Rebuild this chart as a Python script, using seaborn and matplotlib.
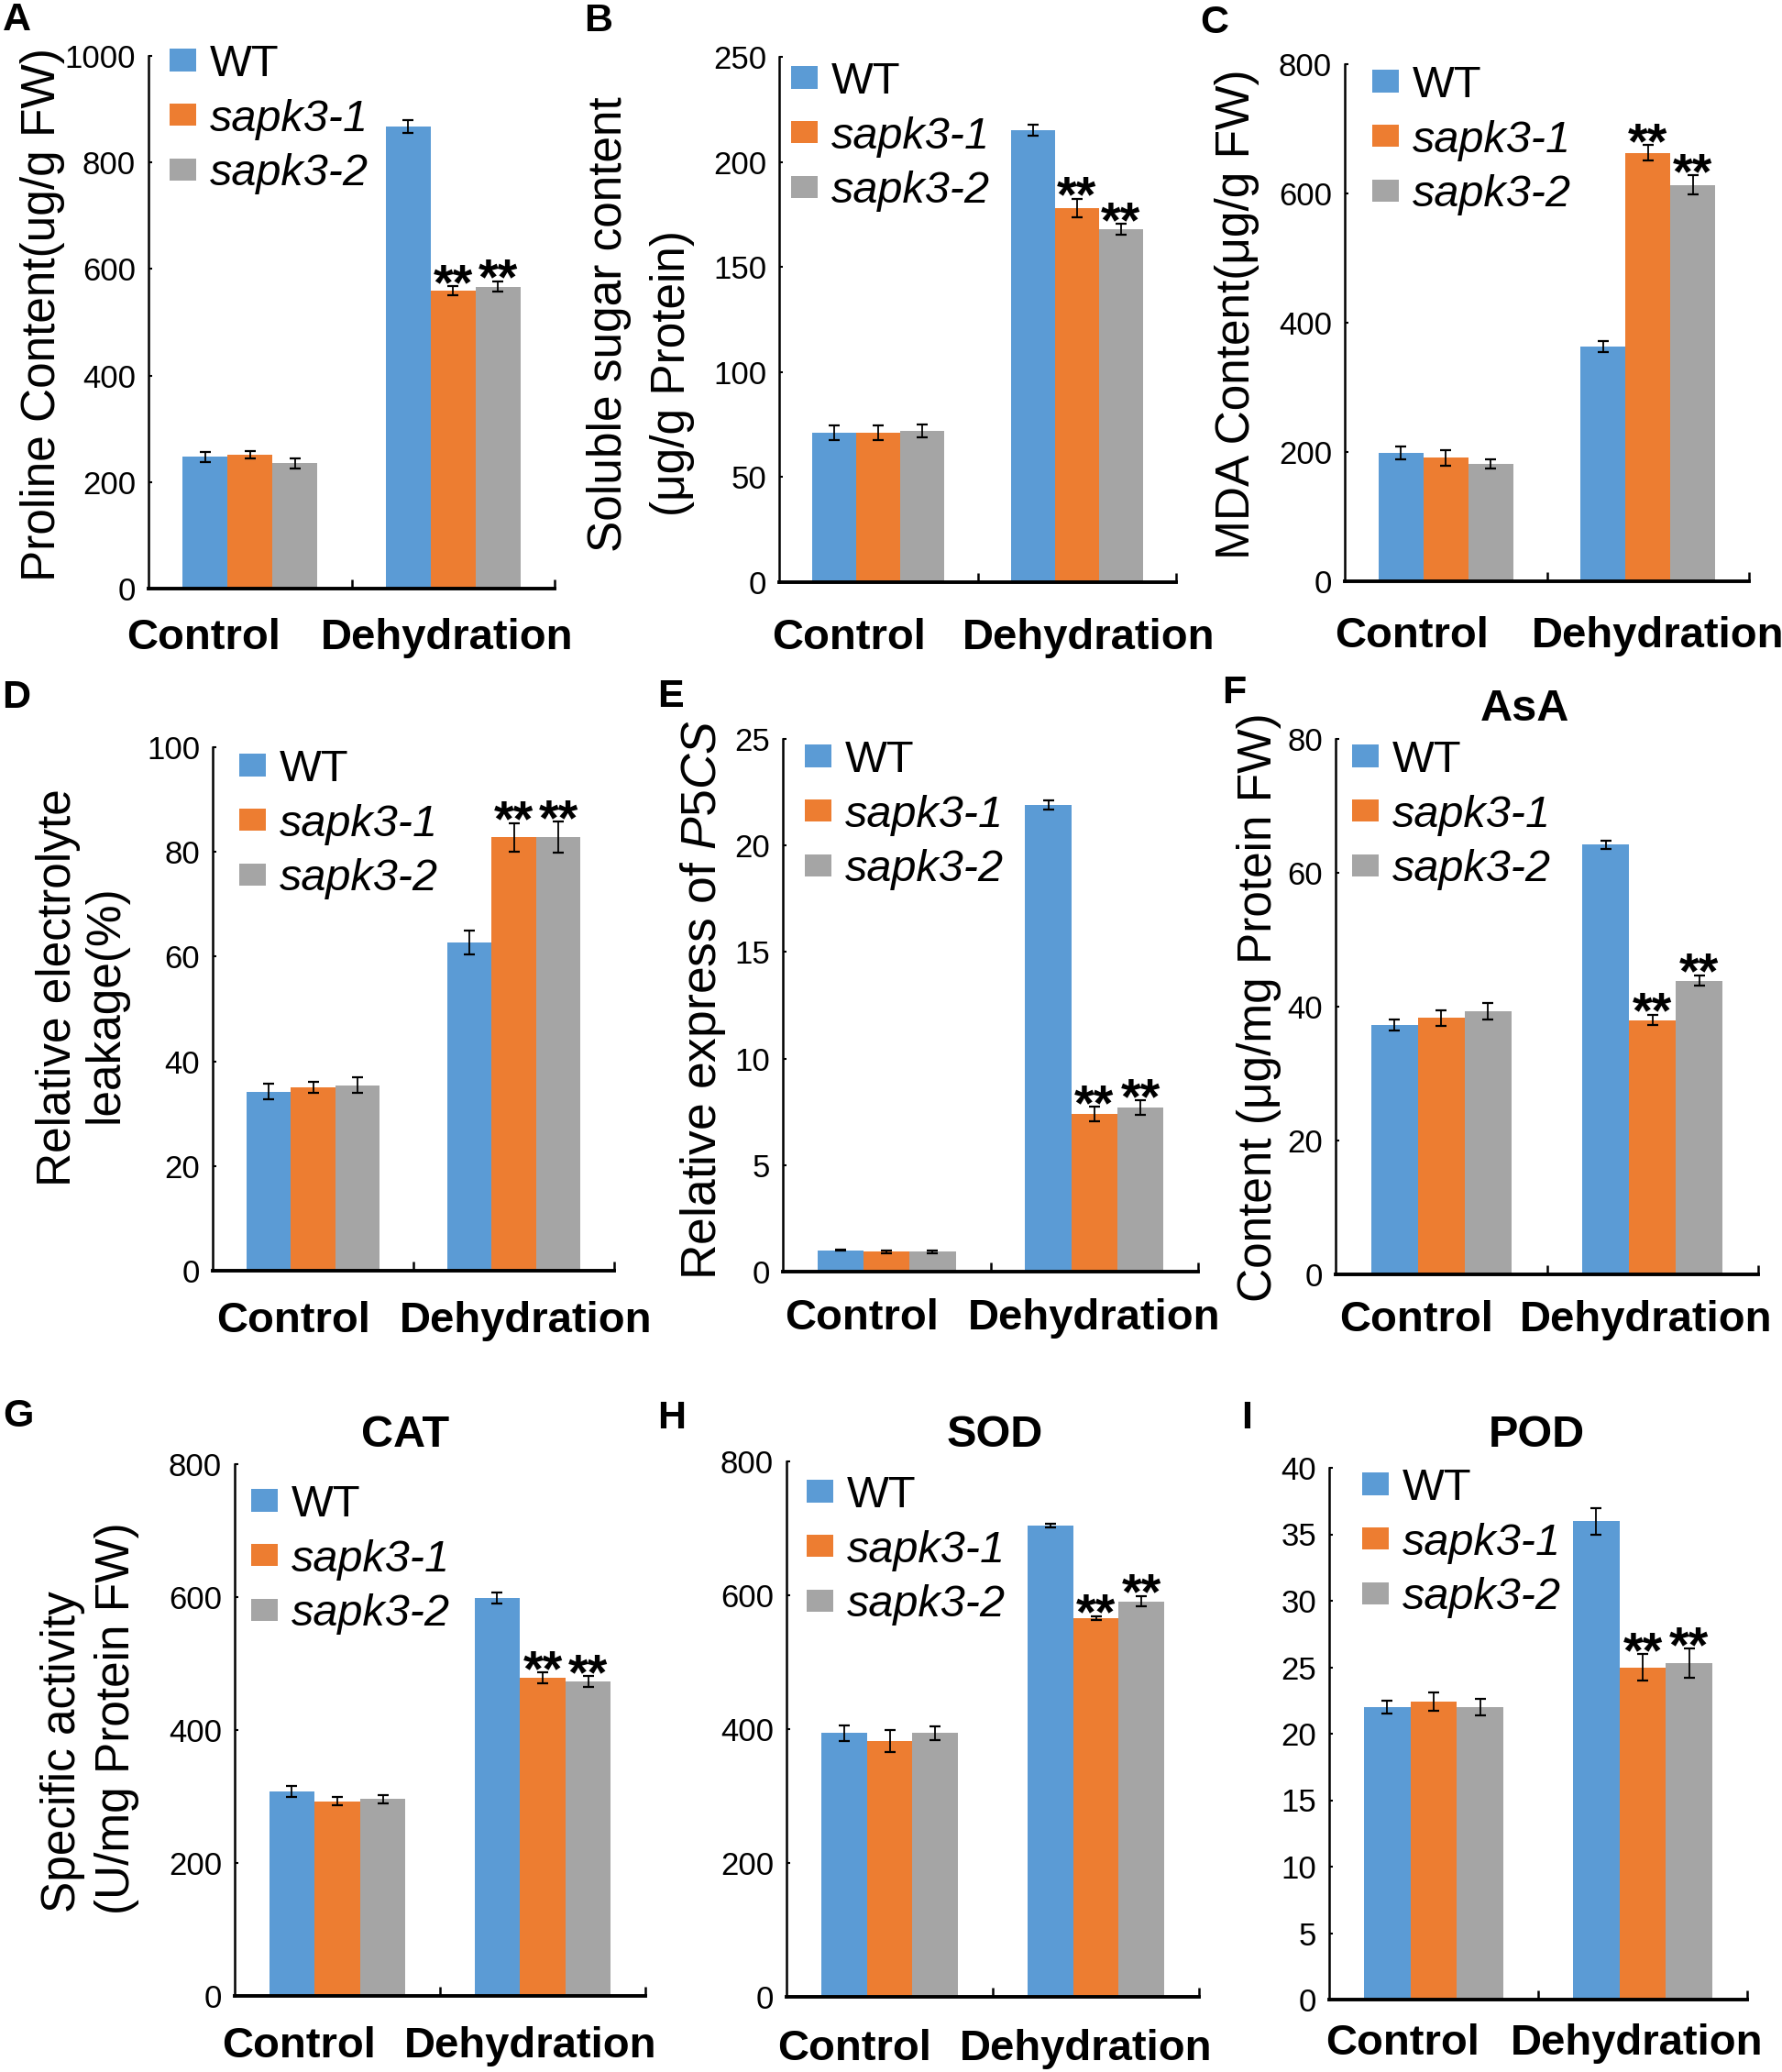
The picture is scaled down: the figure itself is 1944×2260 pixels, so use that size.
import numpy as np
import pandas as pd
import matplotlib
matplotlib.use("Agg")
import matplotlib.pyplot as plt
import seaborn as sns

plt.rcParams['font.family'] = ['Liberation Sans', 'DejaVu Sans']
plt.rcParams['mathtext.fontset'] = 'custom'
plt.rcParams['mathtext.rm'] = 'Liberation Sans'
plt.rcParams['mathtext.it'] = 'Liberation Sans:italic'
plt.rcParams['mathtext.bf'] = 'Liberation Sans:bold'

# ---------------- data ----------------
conditions = ["Control", "Dehydration"]
genotypes = ["WT", "sapk3-1", "sapk3-2"]
colors = ["#5B9BD5", "#ED7D31", "#A5A5A5"]

proline_ctrl = [247, 251, 235]
proline_ctrl_err = [9, 7, 9]
proline_dehy = [867, 559, 567]
proline_dehy_err = [12, 9, 10]

sugar_ctrl = [71, 71, 72]
sugar_ctrl_err = [3.5, 3.5, 3]
sugar_dehy = [215, 178, 168]
sugar_dehy_err = [2.5, 4.5, 2.5]

mda_ctrl = [198, 191, 182]
mda_ctrl_err = [10, 12, 7]
mda_dehy = [363, 663, 613]
mda_dehy_err = [8, 12, 15]

leak_ctrl = [34.2, 35.0, 35.4]
leak_ctrl_err = [1.5, 1.1, 1.5]
leak_dehy = [62.7, 82.8, 82.8]
leak_dehy_err = [2.2, 2.7, 3.0]

p5cs_ctrl = [1.01, 0.93, 0.93]
p5cs_ctrl_err = [0.03, 0.05, 0.05]
p5cs_dehy = [21.9, 7.4, 7.7]
p5cs_dehy_err = [0.2, 0.35, 0.35]

asa_ctrl = [37.3, 38.3, 39.3]
asa_ctrl_err = [0.8, 1.2, 1.2]
asa_dehy = [64.2, 38.0, 43.9]
asa_dehy_err = [0.6, 0.8, 0.8]

cat_ctrl = [308, 293, 296]
cat_ctrl_err = [8, 6, 6]
cat_dehy = [599, 479, 473]
cat_dehy_err = [8, 8, 8]

sod_ctrl = [394, 382, 394]
sod_ctrl_err = [12, 16, 10]
sod_dehy = [704, 566, 591]
sod_dehy_err = [3, 3, 8]

pod_ctrl = [22.0, 22.4, 22.0]
pod_ctrl_err = [0.5, 0.7, 0.6]
pod_dehy = [36.0, 25.0, 25.3]
pod_dehy_err = [1.0, 1.0, 1.1]

y_max = {"A": 1000, "B": 250, "C": 800, "D": 100, "E": 25, "F": 80, "G": 800, "H": 800, "I": 40}
y_step = {"A": 200, "B": 50, "C": 200, "D": 20, "E": 5, "F": 20, "G": 200, "H": 200, "I": 5}

panel_data = {
    "A": (proline_ctrl, proline_ctrl_err, proline_dehy, proline_dehy_err),
    "B": (sugar_ctrl, sugar_ctrl_err, sugar_dehy, sugar_dehy_err),
    "C": (mda_ctrl, mda_ctrl_err, mda_dehy, mda_dehy_err),
    "D": (leak_ctrl, leak_ctrl_err, leak_dehy, leak_dehy_err),
    "E": (p5cs_ctrl, p5cs_ctrl_err, p5cs_dehy, p5cs_dehy_err),
    "F": (asa_ctrl, asa_ctrl_err, asa_dehy, asa_dehy_err),
    "G": (cat_ctrl, cat_ctrl_err, cat_dehy, cat_dehy_err),
    "H": (sod_ctrl, sod_ctrl_err, sod_dehy, sod_dehy_err),
    "I": (pod_ctrl, pod_ctrl_err, pod_dehy, pod_dehy_err),
}

# ---------------- layout (pixels) ----------------
W, H = 1944, 2260
fig = plt.figure(figsize=(W / 100, H / 100), dpi=100)

def fx(x):
    return x / W

def fy(y):
    return 1 - y / H

layout = {
    "A": dict(box=(162, 605, 61, 642), xt=(-0.23, 0.97), leg=(185, 75), pad=23),
    "B": dict(box=(850, 1283, 62, 635), xt=(-0.15, 1.06), leg=(863, 94), pad=28),
    "C": dict(box=(1467, 1908, 70, 634), xt=(-0.17, 1.05), leg=(1497, 98), pad=27),
    "D": dict(box=(232, 670, 815, 1386), xt=(-0.10, 1.06), leg=(261, 844), pad=24),
    "E": dict(box=(854, 1307, 806, 1387), xt=(-0.12, 1.00), leg=(878, 834), pad=21),
    "F": dict(box=(1457, 1918, 806, 1390), xt=(-0.12, 0.97), leg=(1475, 834), pad=20),
    "G": dict(box=(256, 704, 1597, 2177), xt=(-0.185, 0.94), leg=(274, 1646), pad=24),
    "H": dict(box=(858, 1308, 1594, 2178), xt=(-0.17, 0.95), leg=(880, 1636), pad=25),
    "I": dict(box=(1450, 1906, 1601, 2181), xt=(-0.15, 0.97), leg=(1486, 1628), pad=19),
}

for key in "ABCDEFGHI":
    ctrl, ctrl_err, dehy, dehy_err = panel_data[key]
    lay = layout[key]
    x0, x1, yt, yb = lay["box"]
    ax = fig.add_axes([fx(x0), fy(yb), (x1 - x0) / W, (yb - yt) / H])
    df = pd.DataFrame({
        "condition": np.repeat(conditions, len(genotypes)),
        "genotype": genotypes * len(conditions),
        "value": list(ctrl) + list(dehy),
    })
    err_map = {}
    for gi, g in enumerate(genotypes):
        err_map[("Control", g)] = ctrl_err[gi]
        err_map[("Dehydration", g)] = dehy_err[gi]

    sns.barplot(data=df, x="condition", y="value", hue="genotype",
                order=conditions, hue_order=genotypes, palette=colors,
                width=0.665, errorbar=None, saturation=1, linewidth=0, ax=ax)

    bar_containers = list(ax.containers)[:len(genotypes)]
    for gi, cont in enumerate(bar_containers):
        g = genotypes[gi]
        for bar in cont.patches:
            xc = bar.get_x() + bar.get_width() / 2
            ci = int(round(xc))
            cond = conditions[ci]
            h = bar.get_height()
            e = err_map[(cond, g)]
            ax.errorbar(xc, h, yerr=e, fmt="none", ecolor="black", elinewidth=1.3,
                        capsize=4, capthick=1.6, clip_on=False, zorder=5)
            if cond == "Dehydration" and g != "WT":
                ax.annotate("**", xy=(xc, h + e), xytext=(0, -10), textcoords="offset points",
                            ha="center", va="baseline", fontsize=40, fontweight="bold",
                            annotation_clip=False)

    old = ax.get_legend()
    handles = list(old.legend_handles)
    labels = [t.get_text() for t in old.get_texts()]
    old.remove()
    lx, ly = lay["leg"]
    leg = ax.legend(handles, labels, loc="upper left",
                    bbox_to_anchor=(fx(lx), fy(ly - 27)), bbox_transform=fig.transFigure,
                    frameon=False, fontsize=35, handlelength=0.6, handleheight=0.4,
                    handletextpad=0.3, labelspacing=0.3, borderpad=0, borderaxespad=0)
    for t in leg.get_texts()[1:]:
        t.set_fontstyle("italic")

    ax.set_xlabel("")
    ax.set_ylabel("")
    ax.set_xlim(-0.5, 1.5)
    ax.set_ylim(0, y_max[key])
    ax.set_xticks(list(lay["xt"]))
    ax.set_xticklabels(conditions, fontsize=34, fontweight="bold")
    ax.tick_params(axis="x", which="major", length=0, pad=lay["pad"])
    ax.set_xticks([0.5, 1.5], minor=True)
    ax.tick_params(axis="x", which="minor", direction="in", length=7, width=1.8)
    ticks = np.arange(0, y_max[key] + y_step[key] / 2, y_step[key])
    ax.set_yticks(ticks)
    ax.set_yticklabels([f"{int(t)}" for t in ticks], fontsize=25)
    ax.tick_params(axis="y", direction="in", length=3, width=1.5, pad=10)
    for s in ("top", "right"):
        ax.spines[s].set_visible(False)
    ax.spines["left"].set_linewidth(1.8)
    ax.spines["bottom"].set_linewidth(2.8)
    ax.set_facecolor("none")

# ---------------- panel letters ----------------
letters = {"A": (18, 22), "B": (653, 23), "C": (1325, 25), "D": (18, 761), "E": (731, 760),
           "F": (1346, 756), "G": (20, 1545), "H": (733, 1547), "I": (1360, 1547)}
for k, (x, y) in letters.items():
    fig.text(fx(x), fy(y), k, fontsize=31, fontweight="bold", ha="center", va="center")

# ---------------- titles ----------------
titles = {"AsA": (1663, 774), "CAT": (442, 1565), "SOD": (1085, 1565), "POD": (1676, 1565)}
for t, (x, y) in titles.items():
    fig.text(fx(x), fy(y), t, fontsize=35, fontweight="bold", ha="center", va="center")

# ---------------- y labels ----------------
ylabels = [
    ("Proline Content(ug/g FW)", 47, 343, 37),
    ("Soluble sugar content", 664, 354, 37),
    ("(μg/g Protein)", 733, 407, 37),
    ("MDA Content(μg/g FW)", 1349, 343, 37),
    ("Relative electrolyte", 64, 1077, 37),
    ("leakage(%)", 115, 1095, 37),
    ("Relative express of $\\mathit{P5CS}$", 767, 1090, 38.5),
    ("Content (μg/mg Protein FW)", 1373, 1099, 37),
    ("Specific activity", 69, 1911, 37),
    ("(U/mg Protein FW)", 127, 1874, 37),
]
for t, x, y, fs in ylabels:
    fig.text(fx(x), fy(y), t, fontsize=fs, rotation=90, ha="center", va="center")

fig.savefig("out.png", dpi=100, facecolor="white")
